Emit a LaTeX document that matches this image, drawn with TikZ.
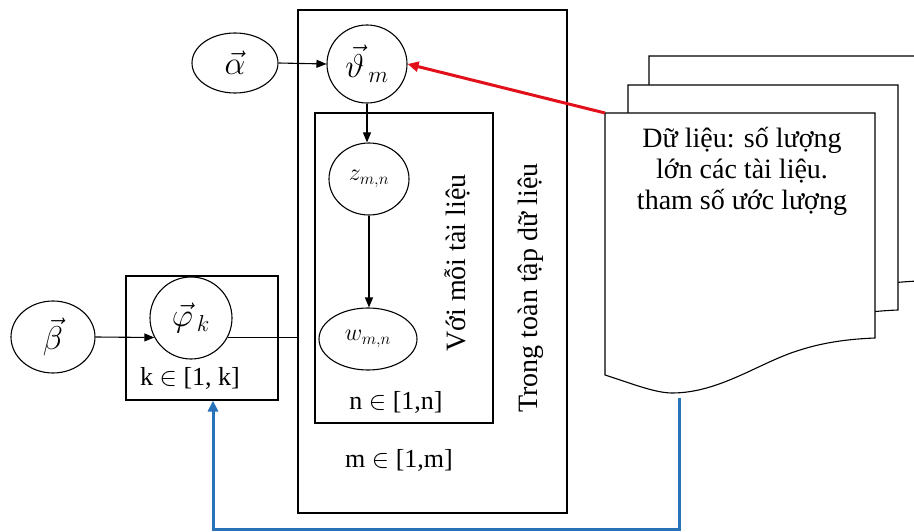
\RequirePackage{fix-cm}
\documentclass[tikz,border=0pt]{standalone}
\usepackage{fontspec}
\setmainfont{Liberation Serif}
\usetikzlibrary{arrows.meta,shapes.geometric}
\definecolor{linkred}{RGB}{226,16,26}
\definecolor{linkblue}{RGB}{40,114,186}
\begin{document}
\begin{tikzpicture}[x=1pt,y=-1pt,
  var/.style={draw, ellipse, line width=1.1pt, inner sep=0pt, font=\fontsize{33}{36}\selectfont},
  smallvar/.style={var, font=\fontsize{24}{27}\selectfont},
  plate/.style={draw, line width=1.1pt, inner sep=0pt},
  arr/.style={line width=1.1pt, -{Triangle[length=10pt,width=8pt]}},
  thickarr/.style={line width=3pt, -{Triangle[length=11pt,width=10pt]}},
  lbl/.style={font=\fontsize{26}{30}\selectfont},
  sidelbl/.style={font=\fontsize{28}{32}\selectfont, rotate=90},
  doc/.style={draw, fill=white, line width=1.1pt},
  doctxt/.style={align=center, font=\fontsize{28}{31}\selectfont}
]
\useasboundingbox (0,0) rectangle (914,532);
\fill[white] (0,0) rectangle (914,532);

% stacked documents (back to front)
\foreach \dx/\dy in {44/-57, 23/-28, 0/0}{
  \begin{scope}[shift={(\dx,\dy)}]
    \draw[doc] (605,375) -- (605,113) -- (875,113) -- (875,338)
      .. controls (850,339) and (825,342) .. (800,350)
      .. controls (760,362) and (720,393) .. (672,393)
      .. controls (655,393) and (630,383) .. cycle;
  \end{scope}
}
\coordinate (doccorner) at (605,113);
\coordinate (docbottom) at (679,398);
\node[doctxt] (doctext) at (742,171) {Dữ liệu: số lượng\\lớn các tài liệu.\\tham số ước lượng};

% plates
\node[plate, minimum width=269, minimum height=503] (outer) at (432.5,261.5) {};
\node[plate, minimum width=178, minimum height=310] (inner) at (404,268) {};
\node[plate, minimum width=152, minimum height=124] (kplate) at (202,338) {};

% random variables
\node[var, minimum width=86, minimum height=60] (alpha) at (235,63) {$\vec{\alpha}$};
\node[var, minimum width=80, minimum height=78] (theta) at (367,64) {$\vec{\vartheta}_{\,m}$};
\node[smallvar, minimum width=80, minimum height=72] (z) at (369,179) {$z_{m,n}$};
\node[smallvar, minimum width=98, minimum height=62] (w) at (368,339) {$w_{m,n}$};
\node[var, minimum width=82, minimum height=82] (phi) at (191,318) {$\vec{\varphi}_{\,k}$};
\node[var, minimum width=84, minimum height=72] (beta) at (53,337) {$\vec{\beta}$};

% plate labels
\node[lbl] (klabel) at (190,378) {k $\in$ [1, k]};
\node[lbl] (nlabel) at (396,402) {n $\in$ [1,n]};
\node[lbl] (mlabel) at (399,460) {m $\in$ [1,m]};
\node[sidelbl] (innerlabel) at (457,263) {Với mỗi tài liệu};
\node[sidelbl] (outerlabel) at (531,288) {Trong toàn tập dữ liệu};

% connectors
\draw[arr] (alpha.east) -- (theta.west);
\draw[arr] (theta.south) -- (theta.south |- z.north);
\draw[arr] (z.south) -- (z.south |- w.north);
\draw[arr] (beta.east) -- (phi.208);
\draw[line width=1.1pt] (phi.332) -- (phi.332 -| outer.west);
\draw[thickarr, linkred] (doccorner) -- (theta.east);
\draw[thickarr, linkblue] (docbottom) -- (docbottom |- 0,529) -| ([xshift=11pt]kplate.south);
\end{tikzpicture}
\end{document}
